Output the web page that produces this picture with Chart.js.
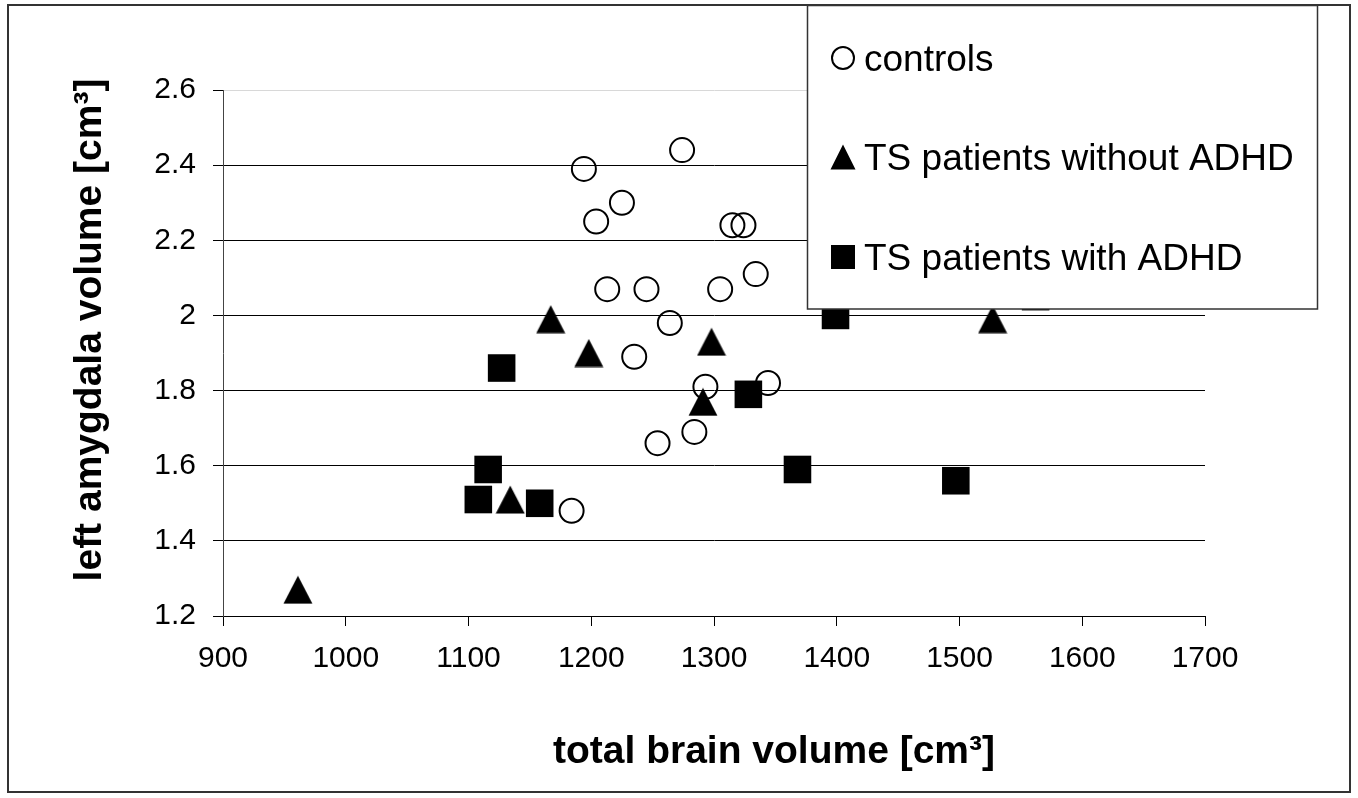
<!DOCTYPE html>
<html>
<head>
<meta charset="utf-8">
<script src="https://cdn.jsdelivr.net/npm/chart.js@4.4.1/dist/chart.umd.min.js"></script>
<style>
  body { margin: 0; background: #fff; }
  canvas { display: block; }
</style>
</head>
<body>
<canvas id="chart" width="1358" height="798"></canvas>
<script>
// values
const controlsX = [1194, 1274, 1225, 1204, 1315, 1324, 1213, 1245, 1305, 1334, 1264, 1235, 1293, 1344, 1254, 1284, 1184];
const controlsY = [2.39, 2.44, 2.30, 2.25, 2.24, 2.24, 2.07, 2.07, 2.07, 2.11, 1.98, 1.89, 1.81, 1.82, 1.66, 1.69, 1.48];

const noAdhdX = [961, 1134, 1167, 1198, 1291, 1298, 1527];
const noAdhdY = [1.27, 1.51, 1.99, 1.90, 1.77, 1.93, 1.99];

const adhdX = [1108, 1116, 1127, 1158, 1328, 1368, 1399, 1497, 1562];
const adhdY = [1.51, 1.59, 1.86, 1.50, 1.79, 1.59, 2.00, 1.56, 2.05];

const xTicks = [900, 1000, 1100, 1200, 1300, 1400, 1500, 1600, 1700];
const yTicks = [1.2, 1.4, 1.6, 1.8, 2, 2.2, 2.4, 2.6];

const seriesNames = ['controls', 'TS patients without ADHD', 'TS patients with ADHD'];
const xTitle = 'total brain volume [cm\u00b3]';
const yTitle = 'left amygdala volume [cm\u00b3]';

const pts = (xs, ys) => xs.map((x, i) => ({x: x, y: ys[i]}));

// excel-like triangle marker, centred on its box
function triangleMarker(w, h) {
    const c = document.createElement('canvas');
    c.width = w; c.height = h;
    const g = c.getContext('2d');
    g.fillStyle = '#000';
    g.beginPath();
    g.moveTo(w / 2, 0.5);
    g.lineTo(w - 0.5, h - 0.5);
    g.lineTo(0.5, h - 0.5);
    g.closePath();
    g.fill();
    return c;
}
const triBig = triangleMarker(30, 29);
const triSmall = triangleMarker(26, 26);

const FONT = '"Liberation Sans", Arial, sans-serif';

const decor = {
    id: 'decor',
    beforeDraw(chart) {
        const ctx = chart.ctx;
        ctx.save();
        ctx.fillStyle = '#fff';
        ctx.fillRect(0, 0, chart.width, chart.height);
        ctx.restore();
    },
    afterDraw(chart) {
        const ctx = chart.ctx;
        ctx.save();

        // legend box over the plot
        ctx.fillStyle = '#fff';
        ctx.fillRect(807.5, 5.5, 510, 303.5);
        ctx.strokeStyle = '#333';
        ctx.lineWidth = 1.5;
        ctx.strokeRect(807.5, 5.5, 510, 303.5);

        const mx = 843;
        const rows = [58, 157, 257];
        // circle
        ctx.beginPath();
        ctx.arc(mx, rows[0], 11, 0, Math.PI * 2);
        ctx.lineWidth = 2;
        ctx.strokeStyle = '#000';
        ctx.stroke();
        // triangle
        ctx.drawImage(triSmall, mx - 13, rows[1] - 13);
        // square
        ctx.fillStyle = '#000';
        ctx.fillRect(mx - 12, rows[2] - 12, 24, 24);

        ctx.fillStyle = '#000';
        ctx.font = '37px ' + FONT;
        ctx.textAlign = 'left';
        ctx.textBaseline = 'alphabetic';
        seriesNames.forEach((name, i) => ctx.fillText(name, 864, rows[i] + 13));

        // axis titles
        ctx.font = 'bold 39px ' + FONT;
        ctx.textAlign = 'center';
        ctx.fillText(xTitle, 774, 763);

        ctx.translate(101, 330);
        ctx.rotate(-Math.PI / 2);
        ctx.fillText(yTitle, 0, 0);
        ctx.restore();

        // outer frame
        ctx.save();
        ctx.strokeStyle = '#333';
        ctx.lineWidth = 2;
        ctx.strokeRect(8, 5, 1342, 787);
        ctx.restore();
    }
};

new Chart(document.getElementById('chart'), {
    type: 'scatter',
    data: {
        datasets: [
            {label: seriesNames[0], data: pts(controlsX, controlsY), order: 2,
             pointStyle: 'circle', pointRadius: 12, pointHoverRadius: 12,
             borderColor: '#000', borderWidth: 2, backgroundColor: 'rgba(0,0,0,0)'},
            {label: seriesNames[1], data: pts(noAdhdX, noAdhdY), order: 1,
             pointStyle: triBig, pointRadius: 15,
             borderColor: '#000', backgroundColor: '#000'},
            {label: seriesNames[2], data: pts(adhdX, adhdY), order: 0,
             pointStyle: 'rect', pointRadius: 19.5, pointHoverRadius: 19.5,
             borderColor: '#000', borderWidth: 0, backgroundColor: '#000'}
        ]
    },
    options: {
        responsive: false,
        animation: false,
        devicePixelRatio: 1,
        layout: {padding: {top: 90, right: 153, left: 0, bottom: 0}},
        plugins: {legend: {display: false}, tooltip: {enabled: false}},
        scales: {
            x: {
                type: 'linear', min: 900, max: 1700,
                afterFit: s => { s.height = 182; },
                afterBuildTicks: s => { s.ticks = xTicks.map(v => ({value: v})); },
                grid: {drawOnChartArea: false, drawTicks: true, tickLength: 10, tickColor: '#000'},
                border: {color: '#000', width: 1},
                ticks: {color: '#000', padding: 15, maxRotation: 0, autoSkip: false,
                        font: {family: FONT, size: 30}, callback: v => String(v)}
            },
            y: {
                type: 'linear', min: 1.2, max: 2.6,
                afterFit: s => { s.width = 223; },
                afterBuildTicks: s => { s.ticks = yTicks.map(v => ({value: v})); },
                grid: {
                    color: c => (c.tick && c.tick.value === 2.6) ? '#d8d8d8' : '#000',
                    tickLength: 10, tickColor: '#000', lineWidth: 1
                },
                border: {color: '#444', width: 1},
                ticks: {color: '#000', padding: 17, autoSkip: false,
                        font: {family: FONT, size: 30}, callback: v => String(Math.round(v * 10) / 10)}
            }
        }
    },
    plugins: [decor]
});
</script>
</body>
</html>
